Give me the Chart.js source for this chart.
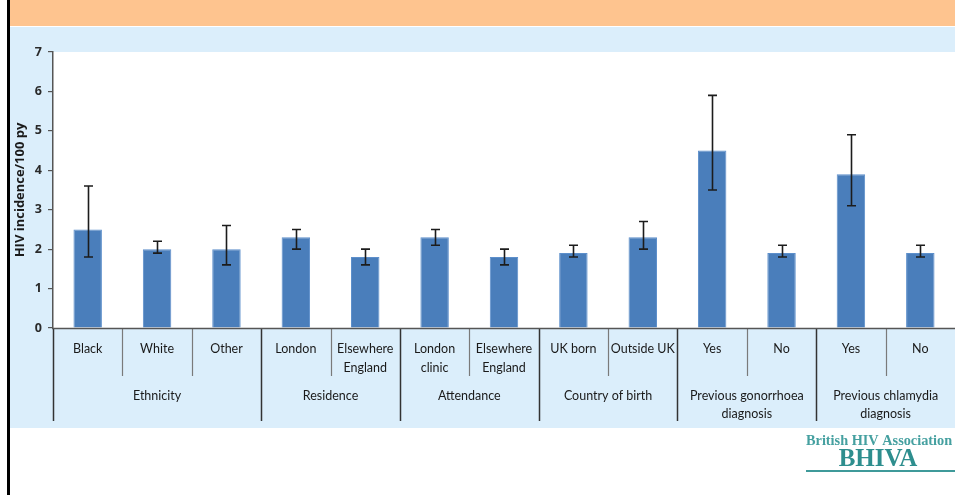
<!DOCTYPE html>
<html>
<head>
<meta charset="utf-8">
<script src="https://cdn.jsdelivr.net/npm/chart.js@4.4.1/dist/chart.umd.min.js"></script>
<style>
    html, body { margin: 0; padding: 0; background: #fff; }
    #wrap { position: relative; width: 955px; height: 495px; }
</style>
</head>
<body>
<div id="wrap"><canvas id="incidenceChart" width="955" height="495"></canvas></div>
<script>
// Categories (bottom row of the axis), one per bar
const categories = ["Black", "White", "Other", "London", ["Elsewhere", "England"],
    ["London", "clinic"], ["Elsewhere", "England"], "UK born", "Outside UK",
    "Yes", "No", "Yes", "No"];

// Group labels (second row) and how many bars each group spans
const groupLabels = [["Ethnicity"], ["Residence"], ["Attendance"], ["Country of birth"],
    ["Previous gonorrhoea", "diagnosis"], ["Previous chlamydia", "diagnosis"]];
const groupSizes = [3, 2, 2, 2, 2, 2];

// HIV incidence per 100 person-years with 95% CI
const incidence = [2.5, 2.0, 2.0, 2.3, 1.8, 2.3, 1.8, 1.9, 2.3, 4.5, 1.9, 3.9, 1.9];
const lowerCI   = [1.8, 1.9, 1.6, 2.0, 1.6, 2.1, 1.6, 1.8, 2.0, 3.5, 1.8, 3.1, 1.8];
const upperCI   = [3.6, 2.2, 2.6, 2.5, 2.0, 2.5, 2.0, 2.1, 2.7, 5.9, 2.1, 4.9, 2.1];

// Y axis range
const yMin = 0;
const yMax = 7;

const labelFont = '12.5px "Lato", "Open Sans", sans-serif';

// Backgrounds: orange band, light blue panel, white plot area
const backgroundPlugin = {
    id: "backgrounds",
    beforeDraw(chart) {
        const ctx = chart.ctx;
        const area = chart.chartArea;
        ctx.save();
        ctx.fillStyle = "#ffffff";
        ctx.fillRect(0, 0, chart.width, chart.height);
        ctx.fillStyle = "#fec48f";
        ctx.fillRect(10, 0, chart.width - 10, 26);
        ctx.fillStyle = "#dbeefb";
        ctx.fillRect(10, 27, chart.width - 10, 401);
        ctx.fillStyle = "#ffffff";
        ctx.fillRect(area.left, area.top, area.right - area.left, area.bottom - area.top);
        ctx.fillStyle = "#000000";
        ctx.fillRect(7, 0, 3, chart.height);
        ctx.restore();
    }
};

// Error bars from the CI arrays
const errorBarPlugin = {
    id: "errorBars",
    afterDatasetsDraw(chart) {
        const ctx = chart.ctx;
        const xScale = chart.scales.x;
        const yScale = chart.scales.y;
        ctx.save();
        ctx.strokeStyle = "#1c1c1c";
        ctx.lineWidth = 1.6;
        incidence.forEach((v, i) => {
            const x = Math.round(xScale.getPixelForValue(i)) + 0.5;
            const yLo = yScale.getPixelForValue(lowerCI[i]);
            const yHi = yScale.getPixelForValue(upperCI[i]);
            ctx.beginPath();
            ctx.moveTo(x, yLo);
            ctx.lineTo(x, yHi);
            ctx.moveTo(x - 4.5, yLo);
            ctx.lineTo(x + 4.5, yLo);
            ctx.moveTo(x - 4.5, yHi);
            ctx.lineTo(x + 4.5, yHi);
            ctx.stroke();
        });
        ctx.restore();
    }
};

// Two-level category axis drawn under the plot
const categoryAxisPlugin = {
    id: "categoryAxis",
    afterDraw(chart) {
        const ctx = chart.ctx;
        const area = chart.chartArea;
        const xScale = chart.scales.x;
        const step = xScale.getPixelForValue(1) - xScale.getPixelForValue(0);
        const edge = i => xScale.getPixelForValue(i) - step / 2;

        // group boundaries
        const groupStarts = [0];
        groupSizes.forEach(s => groupStarts.push(groupStarts[groupStarts.length - 1] + s));

        ctx.save();
        // dividers
        for (let b = 0; b < categories.length; b++) {
            const x = Math.round(edge(b)) + 0.5;
            const isGroup = groupStarts.includes(b);
            ctx.beginPath();
            ctx.strokeStyle = isGroup ? "#333333" : "#7a7a7a";
            ctx.lineWidth = isGroup ? 1.5 : 1.2;
            ctx.moveTo(x, area.bottom);
            ctx.lineTo(x, isGroup ? 421 : 376);
            ctx.stroke();
        }
        // axis line
        ctx.beginPath();
        ctx.strokeStyle = "#555555";
        ctx.lineWidth = 1.5;
        ctx.moveTo(area.left - 1, area.bottom + 0.5);
        ctx.lineTo(area.right, area.bottom + 0.5);
        ctx.stroke();

        // category labels
        ctx.fillStyle = "#1a1a1a";
        ctx.font = labelFont;
        ctx.textAlign = "center";
        ctx.textBaseline = "middle";
        categories.forEach((lab, i) => {
            const lines = Array.isArray(lab) ? lab : [lab];
            const x = xScale.getPixelForValue(i);
            lines.forEach((t, k) => ctx.fillText(t, x, 349 + k * 19));
        });

        // group labels
        groupLabels.forEach((lab, g) => {
            const first = groupStarts[g];
            const last = groupStarts[g + 1] - 1;
            const x = (xScale.getPixelForValue(first) + xScale.getPixelForValue(last)) / 2;
            lab.forEach((t, k) => ctx.fillText(t, x, 396 + k * 18));
        });

        // BHIVA logo
        ctx.textAlign = "left";
        ctx.textBaseline = "alphabetic";
        ctx.fillStyle = "#45a0a0";
        ctx.font = 'bold 14.3px "Liberation Serif", "DejaVu Serif", serif';
        ctx.fillText("British HIV Association", 806, 445);
        ctx.fillStyle = "#2e8e8e";
        ctx.font = 'bold 25px "Liberation Serif", "DejaVu Serif", serif';
        ctx.textAlign = "center";
        ctx.fillText("BHIVA", 878, 466);
        ctx.beginPath();
        ctx.strokeStyle = "#3f9a9a";
        ctx.lineWidth = 2;
        ctx.moveTo(806, 471);
        ctx.lineTo(955, 471);
        ctx.stroke();
        ctx.restore();
    }
};

const ctx = document.getElementById("incidenceChart").getContext("2d");
new Chart(ctx, {
    type: "bar",
    data: {
        labels: categories,
        datasets: [{
            label: "HIV incidence/100 py",
            data: incidence,
            backgroundColor: "#4a7ebb",
            borderColor: "#5d8fcb",
            borderWidth: 1,
            categoryPercentage: 1,
            barPercentage: 0.41
        }]
    },
    options: {
        responsive: false,
        animation: false,
        devicePixelRatio: 1,
        layout: {
            padding: { top: 52, right: 0, bottom: 167, left: 0 }
        },
        plugins: {
            legend: { display: false },
            tooltip: { enabled: false }
        },
        scales: {
            x: {
                display: false
            },
            y: {
                min: yMin,
                max: yMax,
                afterFit(scale) { scale.width = 53; },
                ticks: {
                    stepSize: 1,
                    padding: 6,
                    color: "#2a2a2a",
                    font: { family: "'Open Sans', sans-serif", size: 12.5, weight: "bold" }
                },
                grid: {
                    display: true,
                    drawOnChartArea: false,
                    drawTicks: true,
                    tickLength: 5,
                    color: "#555555",
                    lineWidth: 1.2
                },
                border: { display: true, color: "#555555", width: 1.5 },
                title: {
                    display: true,
                    text: "HIV incidence/100 py",
                    color: "#1a1a1a",
                    padding: { top: 12, bottom: 0 },
                    font: { family: "'Open Sans', sans-serif", size: 13, weight: "bold" }
                }
            }
        }
    },
    plugins: [backgroundPlugin, errorBarPlugin, categoryAxisPlugin]
});
</script>
</body>
</html>
